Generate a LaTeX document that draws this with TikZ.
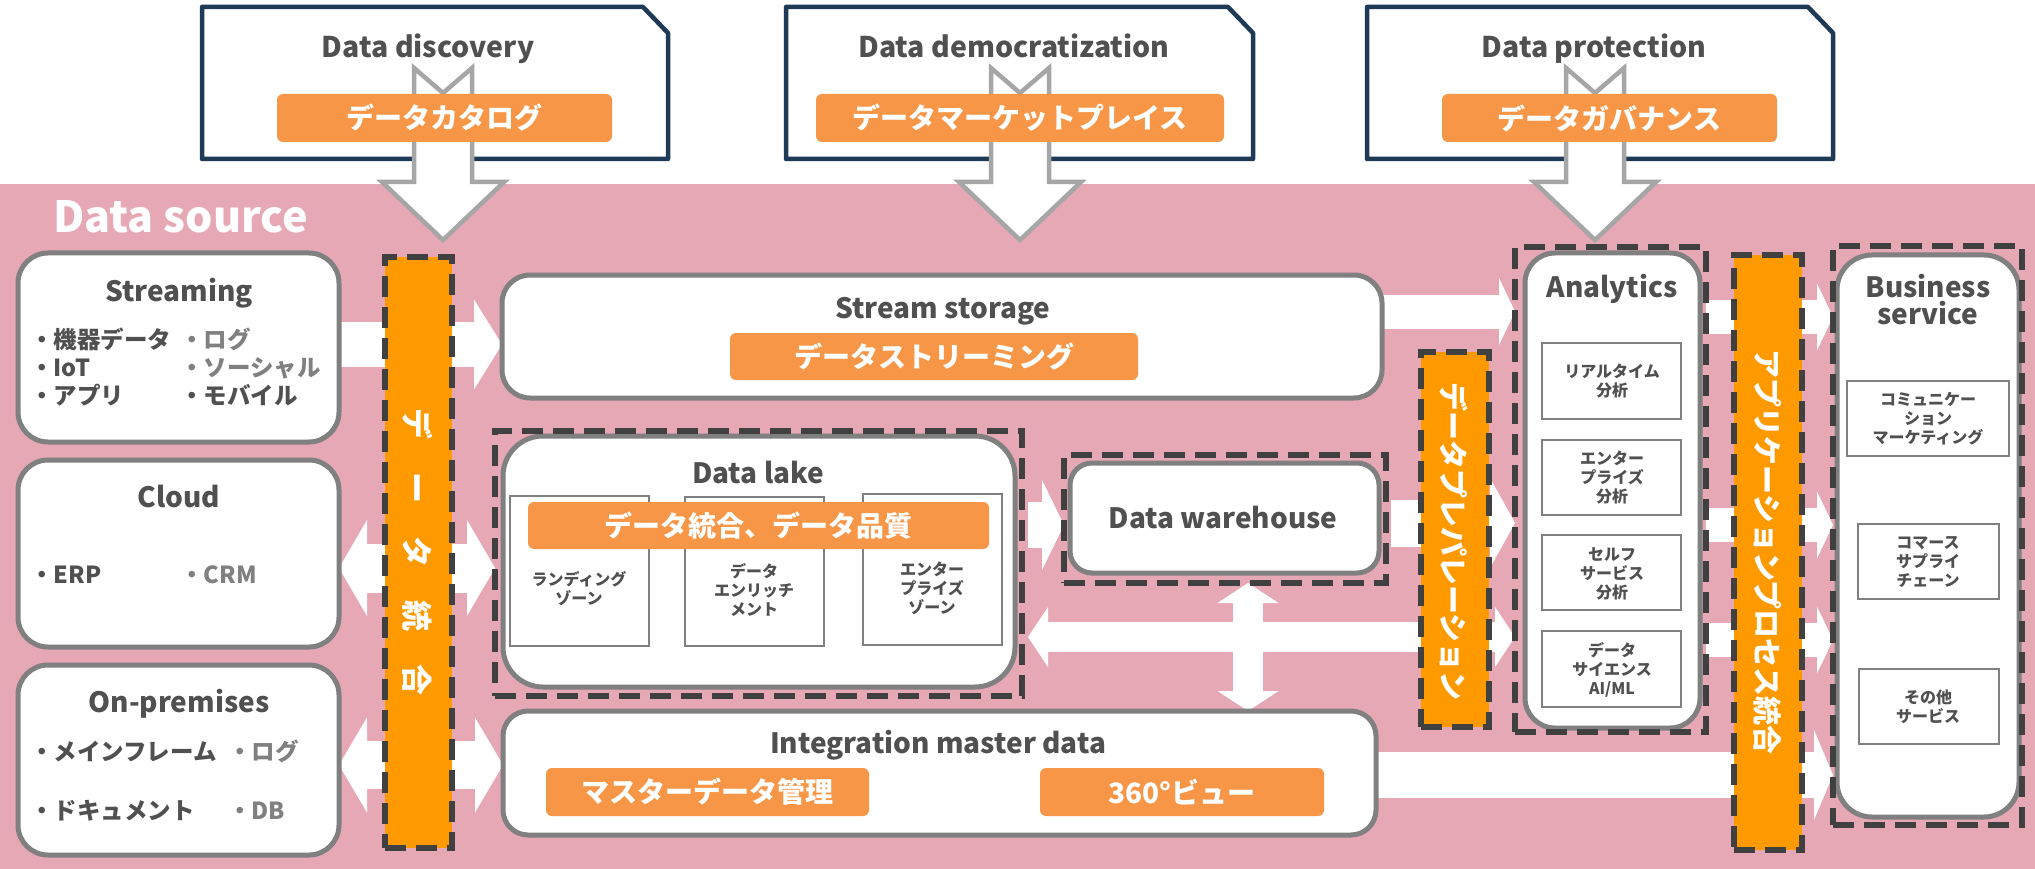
\documentclass[tikz,border=0pt]{standalone}
\usepackage{fontspec}
\setmainfont{Noto Sans CJK JP}
\usetikzlibrary{arrows.meta}
\pgfdeclarelayer{back}
\pgfdeclarelayer{mid}
\pgfsetlayers{back,mid,main}
\definecolor{pinkbg}{HTML}{E6A8B5}
\definecolor{navy}{HTML}{1F3A56}
\definecolor{boxgray}{HTML}{808080}
\definecolor{lblc}{HTML}{F79646}
\definecolor{barc}{HTML}{FF9900}
\definecolor{dashc}{HTML}{404040}
\definecolor{txt}{HTML}{505050}
\definecolor{txtl}{HTML}{808080}
\definecolor{agray}{HTML}{A6A6A6}
\newcommand\rbox[6]{\node[#2, anchor=north west, minimum width={#5-#3}, minimum height={#6-#4}] (#1) at (#3,#4) {};}
\newcommand\lbox[6]{\node[lbl, anchor=north west, minimum width={#4-#2}, minimum height={#5-#3}] (#1) at (#2,#3) {#6};}
\newcommand\topbox[5]{%
  \node[anchor=north west, inner sep=0, outer sep=0, minimum width={#4-#2}, minimum height={#5-#3}] (#1) at (#2,#3) {};
  \begin{pgfonlayer}{back}
  \draw[navy, line width=4.5pt, fill=white, line join=round] (#1.south west) -- (#1.north west) -- ([xshift=-25pt]#1.north east) -- ([yshift=-26pt]#1.north east) -- (#1.south east) -- cycle;
  \end{pgfonlayer}}
\newcommand\notcharrow[1]{%
  \draw[agray, line width=4.5pt, fill=white, line join=miter] (#1-29,68) -- (#1,93) -- (#1+29,68) -- (#1+29,182) -- (#1+61,182) -- (#1,240) -- (#1-61,182) -- (#1-29,182) -- cycle;}
\tikzset{
  gbox/.style={draw=boxgray, line width=5pt, fill=white, rounded corners=#1, inner sep=0, outer sep=0},
  gbox/.default=30pt,
  dbox/.style={draw=dashc, line width=6pt, dash pattern=on 21pt off 10pt, inner sep=0, outer sep=0},
  vbar/.style={fill=barc, draw=dashc, line width=6pt, dash pattern=on 21pt off 10pt, inner sep=0, outer sep=0},
  ibox/.style={draw=boxgray, line width=2.5pt, fill=white, inner sep=0, outer sep=0},
  lbl/.style={fill=lblc, rounded corners=6pt, text=white, font=\bfseries\fontsize{28}{32}\selectfont, inner sep=0, outer sep=0},
  ttl/.style={anchor=base, text=txt, font=\bfseries\fontsize{28}{32}\selectfont, inner sep=0},
  tttl/.style={ttl, font=\bfseries\fontsize{28.5}{32}\selectfont},
  bul/.style={anchor=base west, text=txt, font=\bfseries\fontsize{23.5}{28}\selectfont, inner sep=0},
  bull/.style={bul, text=txtl},
  sm/.style={align=center, text=txt, font=\bfseries\fontsize{16}{19}\selectfont, inner sep=0},
  vtxt/.style={rotate=-90, text=white, font=\bfseries\fontsize{29}{32}\selectfont, inner sep=0},
  wa/.style n args={3}{draw=white, line width=#1, -{Triangle[length=#3, width=#2, line width=0pt]}},
  wd/.style n args={3}{draw=white, line width=#1, {Triangle[length=#3, width=#2, line width=0pt]}-{Triangle[length=#3, width=#2, line width=0pt]}},
}
\begin{document}
\begin{tikzpicture}[x=1pt,y=-1pt]
\useasboundingbox (0,0) rectangle (2035,869);
\begin{pgfonlayer}{back}
\fill[white] (0,0) rectangle (2035,869);
\fill[pinkbg] (0,184) rectangle (2035,869);
\end{pgfonlayer}
% ---------- top boxes ----------
\topbox{tb1}{202}{7}{668}{159}
\topbox{tb2}{786}{7}{1253}{159}
\topbox{tb3}{1367}{7}{1833}{159}
\node[tttl] (tb1t) at (428,58) {Data discovery};
\node[tttl] (tb2t) at (1014,58) {Data democratization};
\node[tttl] (tb3t) at (1594,58) {Data protection};
\begin{pgfonlayer}{mid}
\notcharrow{443}
\notcharrow{1020}
\notcharrow{1595}
\end{pgfonlayer}
\lbox{tl1}{277}{94}{612}{142}{データカタログ}
\lbox{tl2}{816}{94}{1224}{142}{データマーケットプレイス}
\lbox{tl3}{1442}{94}{1777}{142}{データガバナンス}
\node[anchor=base west, text=white, font=\bfseries\fontsize{43}{48}\selectfont, inner sep=0] (dsrc) at (53,233) {Data source};
% ---------- sources ----------
\rbox{strm}{gbox}{18}{253}{339}{442}
\rbox{cloud}{gbox}{18}{460}{339}{647}
\rbox{onp}{gbox}{18}{665}{339}{855}
\node[ttl] (strmt) at (179,301) {Streaming};
\node[ttl] (cloudt) at (179,507) {Cloud};
\node[ttl] (onpt) at (179,712) {On-premises};
\node[bul] (s1) at (30,348) {・機器データ};
\node[bull] (s2) at (180,348) {・ログ};
\node[bul] (s3) at (30,376) {・IoT};
\node[bull] (s4) at (180,376) {・ソーシャル};
\node[bul] (s5) at (30,404) {・アプリ};
\node[bul] (s6) at (180,404) {・モバイル};
\node[bul] (c1) at (30,583) {・ERP};
\node[bull] (c2) at (180,583) {・CRM};
\node[bul] (o1) at (30,760) {・メインフレーム};
\node[bull] (o2) at (228,760) {・ログ};
\node[bul] (o3) at (30,819) {・ドキュメント};
\node[bull] (o4) at (228,819) {・DB};
% ---------- stream storage ----------
\rbox{stor}{gbox=28pt}{502}{275}{1382}{398}
\node[ttl] (stort) at (943,318) {Stream storage};
\lbox{storl}{730}{333}{1138}{380}{データストリーミング}
% ---------- data lake ----------
\rbox{lakeB}{gbox=40pt}{503}{436}{1015}{687}
\node[ttl] (laket) at (758,483) {Data lake};
\rbox{z1}{ibox}{510}{496}{649}{646}
\rbox{z2}{ibox}{685}{497}{824}{646}
\rbox{z3}{ibox}{863}{494}{1002}{645}
\node[sm] (z1t) at (579,589) {ランディング\\ゾーン};
\node[sm] (z2t) at (754,590) {データ\\エンリッチ\\メント};
\node[sm] (z3t) at (932,588) {エンター\\プライズ\\ゾーン};
\lbox{lakel}{528}{502}{989}{549}{データ統合、データ品質}
\rbox{lakeD}{dbox}{495}{431}{1022}{696}
% ---------- data warehouse ----------
\rbox{dwB}{gbox=22pt}{1070}{463}{1379}{573}
\node[ttl] (dwt) at (1223,528) {Data warehouse};
\rbox{dwD}{dbox}{1064}{455}{1386}{583}
% ---------- integration master data ----------
\rbox{intg}{gbox=25pt}{503}{711}{1376}{835}
\node[ttl] (intgt) at (938,753) {Integration master data};
\lbox{intl1}{546}{768}{869}{816}{マスターデータ管理}
\lbox{intl2}{1040}{768}{1324}{816}{360°ビュー}
% ---------- analytics ----------
\rbox{anaB}{gbox=30pt}{1525}{253}{1700}{728}
\node[ttl] (anat) at (1612,297) {Analytics};
\rbox{a1}{ibox}{1542}{343}{1681}{419}
\rbox{a2}{ibox}{1542}{440}{1681}{515}
\rbox{a3}{ibox}{1542}{535}{1681}{610}
\rbox{a4}{ibox}{1542}{631}{1681}{707}
\node[sm] (a1t) at (1612,381.5) {リアルタイム\\分析};
\node[sm] (a2t) at (1612,477.5) {エンター\\プライズ\\分析};
\node[sm] (a3t) at (1612,574) {セルフ\\サービス\\分析};
\node[sm] (a4t) at (1612,669.5) {データ\\サイエンス\\AI/ML};
\rbox{anaD}{dbox}{1515}{247}{1706}{732}
% ---------- business service ----------
\rbox{busB}{gbox=35pt}{1837}{255}{2019}{817}
\node[ttl] (bust1) at (1928,297) {Business};
\node[ttl] (bust2) at (1928,324) {service};
\rbox{b1}{ibox}{1847}{381}{2009}{456}
\rbox{b2}{ibox}{1858}{524}{1999}{599}
\rbox{b3}{ibox}{1859}{669}{1999}{744}
\node[sm] (b1t) at (1928,418.5) {コミュニケー\\ション\\マーケティング};
\node[sm] (b2t) at (1928,561.5) {コマース\\サプライ\\チェーン};
\node[sm] (b3t) at (1928,706.5) {その他\\サービス};
\rbox{busD}{dbox}{1833}{246}{2022}{825}
% ---------- orange bars ----------
\rbox{bar1}{vbar}{385}{257}{452}{848}
\node[vtxt, font=\bfseries\fontsize{31}{32}\selectfont] (bar1t) at (418,552) {デ\hspace{33pt}ー\hspace{33pt}タ\hspace{33pt}統\hspace{33pt}合};
\rbox{bar2}{vbar}{1421}{352}{1489}{727}
\node[vtxt] (bar2t) at (1454,541.5) {データプレパレーション};
\rbox{bar3}{vbar}{1734}{255}{1802}{850}
\node[vtxt] (bar3t) at (1768,552) {アプリケーションプロセス統合};
% ---------- white arrows ----------
\begin{pgfonlayer}{mid}
\draw[wa={45pt}{90pt}{28pt}] (strm.east |- 0,344.5) -- (stor.west |- 0,344.5);
\draw[wd={49pt}{96pt}{28pt}] (cloud.east |- 0,568) -- (lakeD.west |- 0,568);
\draw[wd={48pt}{95pt}{28pt}] (onp.east |- 0,765) -- (intg.west |- 0,765);
\draw[wa={46pt}{90pt}{22pt}, shorten <=6pt] (lakeD.east |- 0,525) -- (dwD.west |- 0,525);
\draw[wa={47pt}{90pt}{25pt}, shorten <=5pt] (dwD.east |- 0,523) -- (anaD.west |- 0,523);
\draw[wd={30pt}{60pt}{20pt}, shorten <=6pt] (lakeD.east |- 0,637) -- (anaD.west |- 0,637);
\draw[wd={30pt}{61pt}{20pt}] (dwD.south -| 1248,0) -- (intg.north -| 1248,0);
\draw[wa={34pt}{67pt}{16pt}] (stor.east |- 0,311.5) -- (anaD.west |- 0,311.5);
\draw[wa={34pt}{67pt}{16pt}] (anaD.east |- 0,317) -- (busD.west |- 0,317);
\draw[wa={34pt}{67pt}{16pt}] (anaD.east |- 0,525) -- (busD.west |- 0,525);
\draw[wa={34pt}{67pt}{16pt}] (anaD.east |- 0,640) -- (busD.west |- 0,640);
\draw[wa={46pt}{90pt}{19pt}] (intg.east |- 0,775) -- (busD.west |- 0,775);
\end{pgfonlayer}
\end{tikzpicture}
\end{document}
